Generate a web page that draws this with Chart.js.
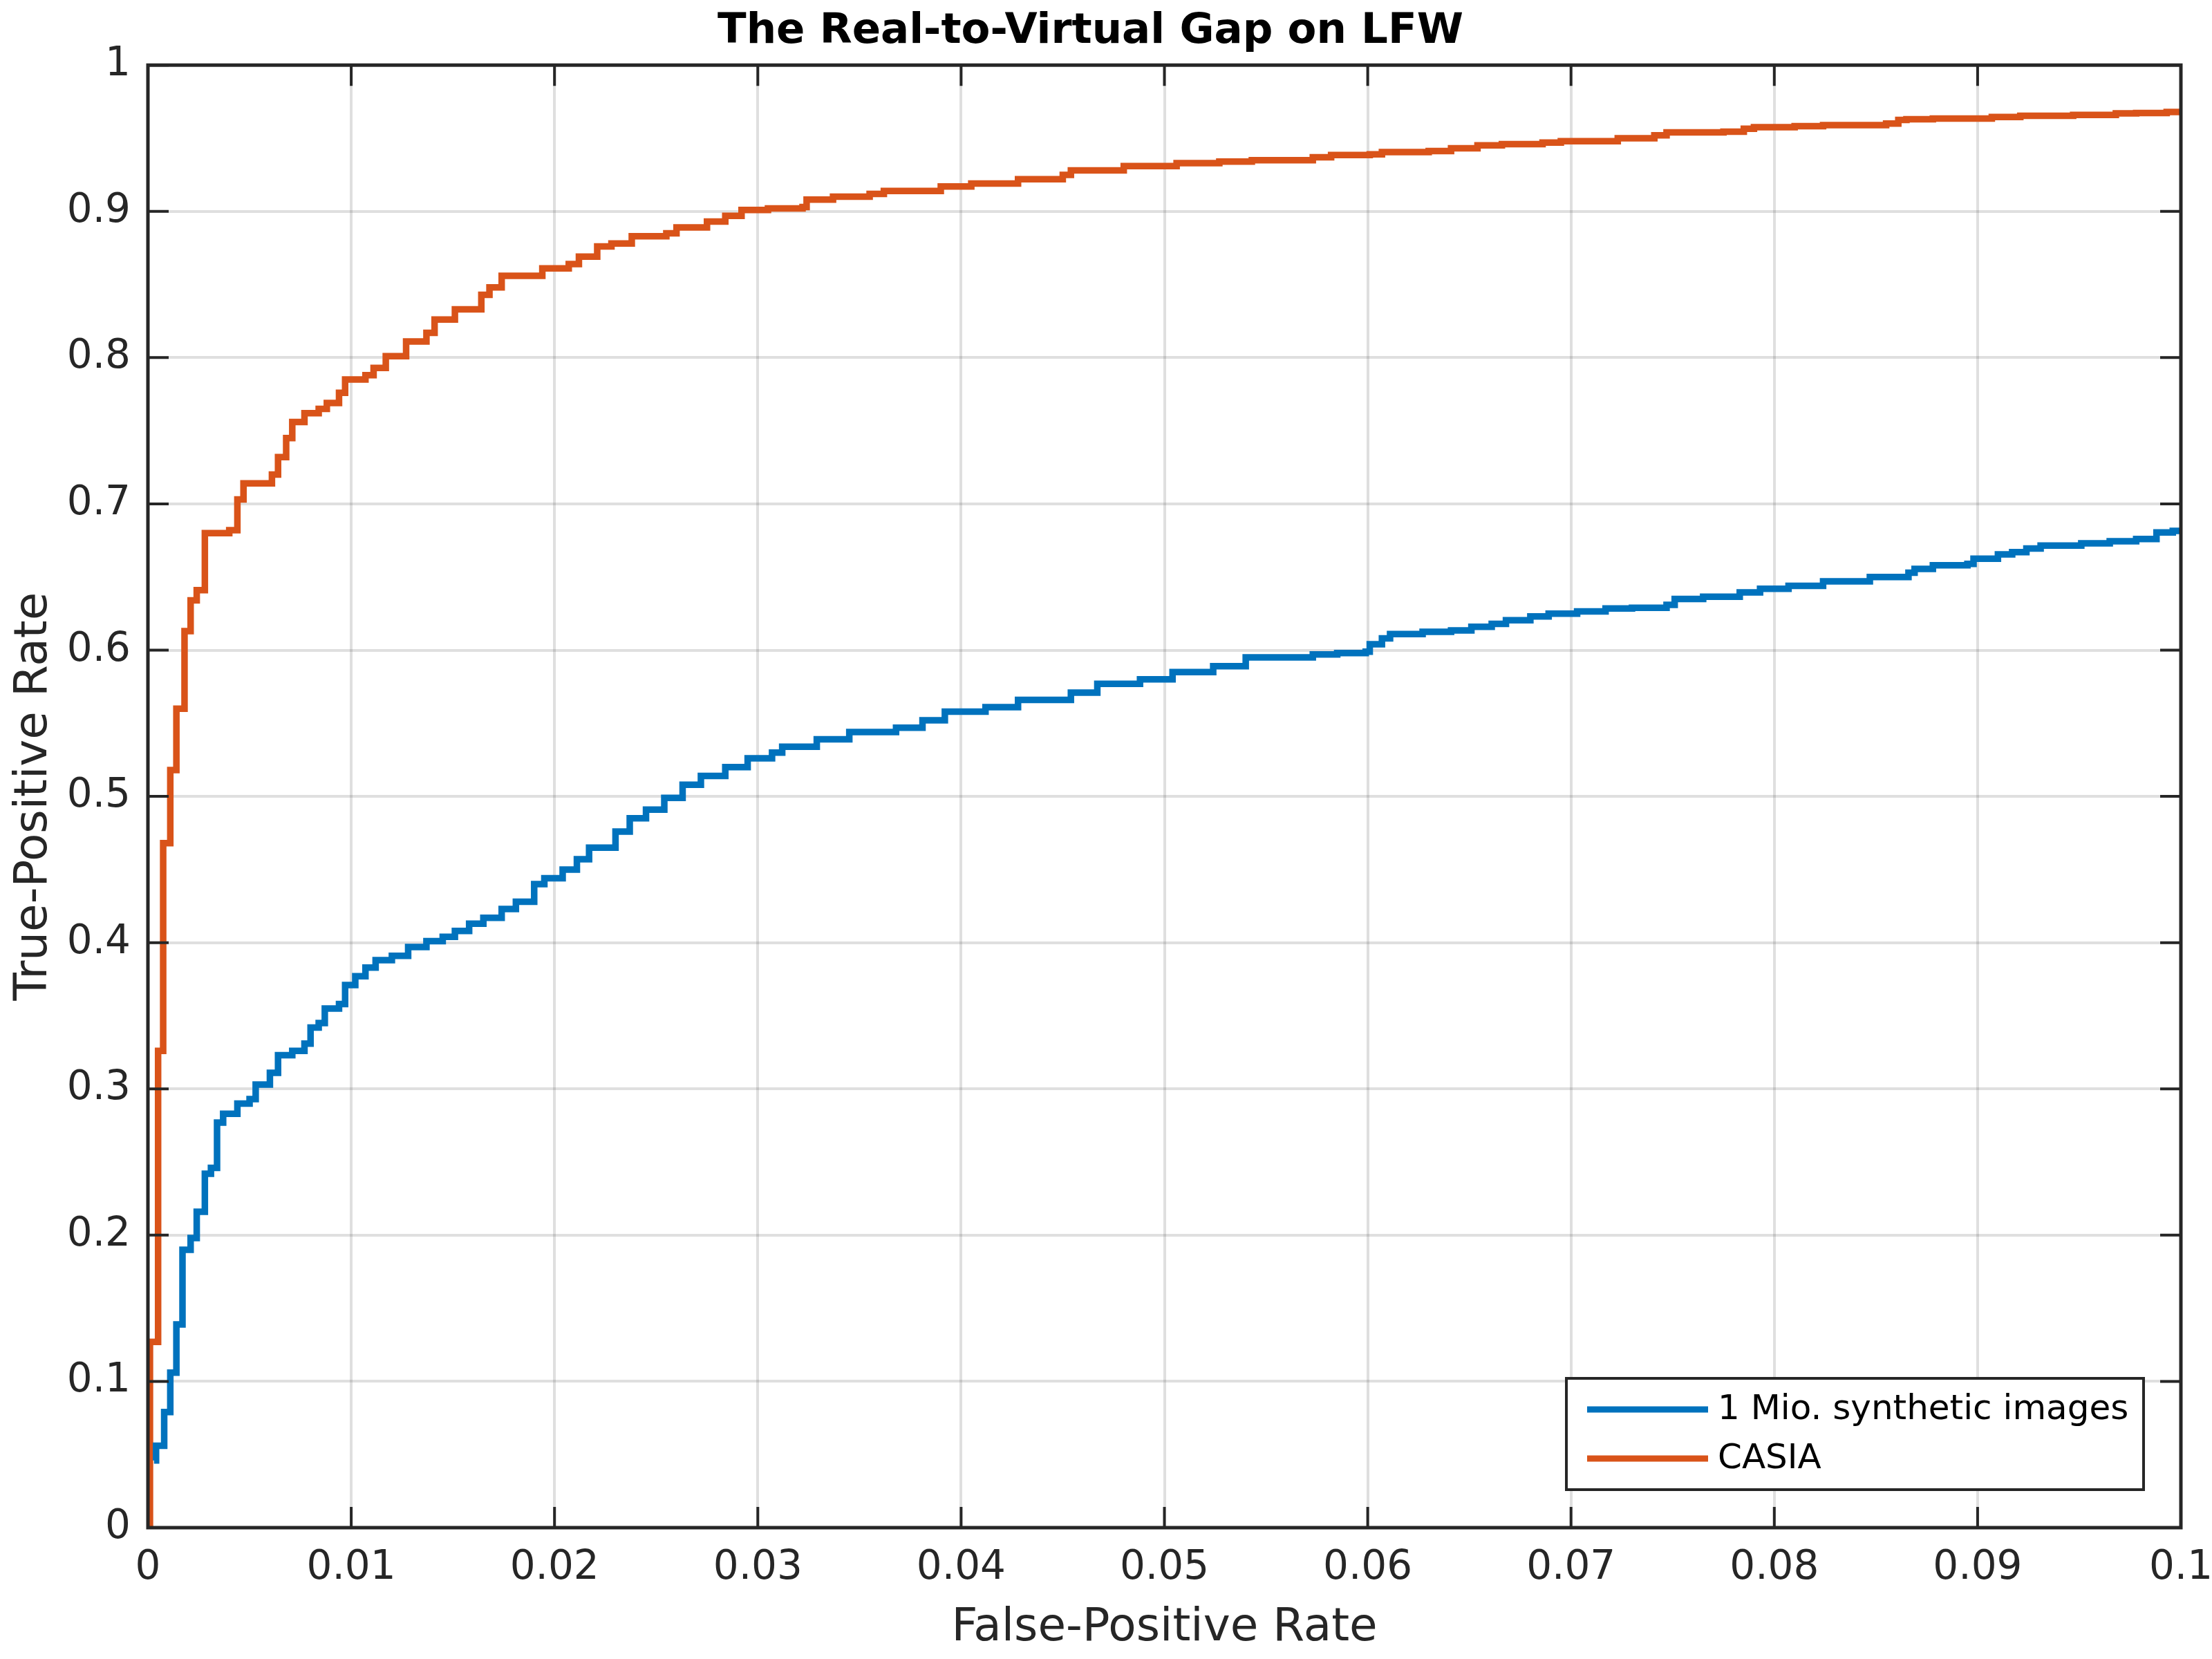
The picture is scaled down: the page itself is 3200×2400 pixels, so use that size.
<!DOCTYPE html>
<html>
<head>
<meta charset="utf-8">
<script src="https://cdn.jsdelivr.net/npm/chart.js@4/dist/chart.umd.min.js"></script>
<style>
  html, body { margin: 0; padding: 0; background: #fff; }
  #wrap { width: 3200px; height: 2400px; }
</style>
</head>
<body>
<div id="wrap"><canvas id="rocChart" width="3200" height="2400"></canvas></div>
<script>
// 1) Data
const seriesNames = ['1 Mio. synthetic images', 'CASIA'];
const seriesColors = ['#0072BD', '#D95319'];

const fprSynthetic = [0.0003, 0.0004, 0.0008, 0.0011, 0.0014, 0.0017, 0.0021, 0.0024, 0.0028, 0.0031,
  0.0034, 0.0037, 0.0044, 0.0050, 0.0053, 0.0060, 0.0064, 0.0071, 0.0077, 0.0080,
  0.0084, 0.0087, 0.0094, 0.0097, 0.0102, 0.0107, 0.0112, 0.0120, 0.0128, 0.0137,
  0.0145, 0.0151, 0.0158, 0.0165, 0.0174, 0.0181, 0.0190, 0.0195, 0.0204, 0.0211,
  0.0217, 0.0230, 0.0237, 0.0245, 0.0254, 0.0263, 0.0272, 0.0284, 0.0295, 0.0307,
  0.0312, 0.0329, 0.0345, 0.0368, 0.0381, 0.0392, 0.0412, 0.0428, 0.0454, 0.0467,
  0.0488, 0.0504, 0.0524, 0.0540, 0.0573, 0.0585, 0.0599, 0.0601, 0.0607, 0.0611,
  0.0627, 0.0641, 0.0651, 0.0661, 0.0668, 0.0680, 0.0689, 0.0703, 0.0717, 0.0730,
  0.0747, 0.0751, 0.0765, 0.0783, 0.0793, 0.0807, 0.0824, 0.0847, 0.0866, 0.0869,
  0.0878, 0.0895, 0.0898, 0.0910, 0.0917, 0.0924, 0.0931, 0.0951, 0.0965, 0.0978,
  0.0988, 0.0996, 0.1000];
const tprSynthetic = [0.046, 0.056, 0.079, 0.106, 0.139, 0.190, 0.198, 0.216, 0.242, 0.246,
  0.277, 0.283, 0.290, 0.293, 0.303, 0.311, 0.323, 0.326, 0.331, 0.342,
  0.345, 0.355, 0.358, 0.371, 0.377, 0.383, 0.388, 0.391, 0.397, 0.401,
  0.404, 0.408, 0.413, 0.417, 0.423, 0.428, 0.440, 0.444, 0.450, 0.457,
  0.465, 0.476, 0.485, 0.491, 0.499, 0.508, 0.514, 0.520, 0.526, 0.530,
  0.534, 0.539, 0.544, 0.547, 0.552, 0.558, 0.561, 0.566, 0.571, 0.577,
  0.580, 0.585, 0.589, 0.595, 0.597, 0.598, 0.599, 0.604, 0.608, 0.611,
  0.6125, 0.6135, 0.616, 0.618, 0.6205, 0.623, 0.625, 0.6265, 0.6285, 0.629,
  0.631, 0.635, 0.6365, 0.6395, 0.642, 0.644, 0.647, 0.650, 0.653, 0.6555,
  0.658, 0.659, 0.6625, 0.6655, 0.667, 0.6695, 0.6715, 0.673, 0.6745, 0.676,
  0.6805, 0.6815, 0.6815];

const fprCasia = [0, 0.0001, 0.0005, 0.00075, 0.0011, 0.0014, 0.0018, 0.0021, 0.0024, 0.0028,
  0.0040, 0.0044, 0.0047, 0.0061, 0.0064, 0.0068, 0.0071, 0.0077, 0.0084, 0.0088,
  0.0094, 0.0097, 0.0107, 0.0111, 0.0117, 0.0127, 0.0137, 0.0141, 0.0151, 0.0164,
  0.0168, 0.0174, 0.0194, 0.0207, 0.0212, 0.0221, 0.0228, 0.0238, 0.0255, 0.0260,
  0.0275, 0.0284, 0.0292, 0.0305, 0.0322, 0.0324, 0.0337, 0.0355, 0.0362, 0.0390,
  0.0405, 0.0428, 0.0450, 0.0454, 0.0480, 0.0506, 0.0527, 0.0543, 0.0573, 0.0582,
  0.0601, 0.0607, 0.0630, 0.0641, 0.0654, 0.0666, 0.0686, 0.0695, 0.0723, 0.0741,
  0.0747, 0.0775, 0.0785, 0.0790, 0.0810, 0.0824, 0.0855, 0.0861, 0.0865, 0.0878,
  0.0907, 0.0921, 0.0947, 0.0968, 0.0978, 0.0993, 0.1000];
const tprCasia = [0, 0.127, 0.326, 0.468, 0.518, 0.560, 0.613, 0.634, 0.641, 0.680,
  0.682, 0.703, 0.714, 0.720, 0.732, 0.745, 0.756, 0.762, 0.765, 0.769,
  0.776, 0.785, 0.788, 0.793, 0.801, 0.811, 0.817, 0.826, 0.833, 0.843,
  0.848, 0.856, 0.861, 0.864, 0.869, 0.876, 0.878, 0.883, 0.885, 0.889,
  0.893, 0.897, 0.901, 0.902, 0.903, 0.908, 0.910, 0.912, 0.914, 0.917,
  0.919, 0.922, 0.925, 0.928, 0.931, 0.933, 0.934, 0.935, 0.937, 0.9385,
  0.939, 0.9405, 0.9413, 0.9432, 0.9452, 0.946, 0.947, 0.948, 0.950, 0.952,
  0.954, 0.9545, 0.9565, 0.9575, 0.9583, 0.959, 0.960, 0.9625, 0.963, 0.9635,
  0.9645, 0.9653, 0.966, 0.967, 0.9673, 0.968, 0.968];

// 2) Axis ticks
const xTicks = [0, 0.01, 0.02, 0.03, 0.04, 0.05, 0.06, 0.07, 0.08, 0.09, 0.1];
const xTickLabels = ['0', '0.01', '0.02', '0.03', '0.04', '0.05', '0.06', '0.07', '0.08', '0.09', '0.1'];
const yTicks = [0, 0.1, 0.2, 0.3, 0.4, 0.5, 0.6, 0.7, 0.8, 0.9, 1];
const yTickLabels = ['0', '0.1', '0.2', '0.3', '0.4', '0.5', '0.6', '0.7', '0.8', '0.9', '1'];

const AXIS_COLOR = '#262626';
const FONT = 'DejaVu Sans';

function toPoints(xs, ys) {
  return xs.map((x, i) => ({ x, y: ys[i] }));
}

// 3) MATLAB-style box, inward ticks on all sides, and legend
const matlabAxes = {
  id: 'matlabAxes',
  afterDraw(chart) {
    const { ctx, chartArea: a, scales } = chart;
    const tickLen = 30;
    ctx.save();
    ctx.strokeStyle = AXIS_COLOR;
    ctx.lineWidth = 4;
    ctx.beginPath();
    xTicks.forEach(v => {
      const px = scales.x.getPixelForValue(v);
      ctx.moveTo(px, a.bottom); ctx.lineTo(px, a.bottom - tickLen);
      ctx.moveTo(px, a.top); ctx.lineTo(px, a.top + tickLen);
    });
    yTicks.forEach(v => {
      const py = scales.y.getPixelForValue(v);
      ctx.moveTo(a.left, py); ctx.lineTo(a.left + tickLen, py);
      ctx.moveTo(a.right, py); ctx.lineTo(a.right - tickLen, py);
    });
    ctx.stroke();
    ctx.lineWidth = 5;
    ctx.strokeRect(a.left, a.top, a.right - a.left, a.bottom - a.top);

    // legend box in the lower right corner
    const boxR = a.right - 54, boxB = a.bottom - 55;
    const boxW = 835, boxH = 161;
    const boxL = boxR - boxW, boxT = boxB - boxH;
    ctx.fillStyle = '#ffffff';
    ctx.fillRect(boxL, boxT, boxW, boxH);
    ctx.lineWidth = 4;
    ctx.strokeRect(boxL, boxT, boxW, boxH);
    ctx.font = '50px "' + FONT + '"';
    ctx.textBaseline = 'middle';
    ctx.textAlign = 'left';
    chart.data.datasets.forEach((ds, i) => {
      const ly = boxT + 45 + i * 71;
      ctx.strokeStyle = ds.borderColor;
      ctx.lineWidth = 9;
      ctx.beginPath();
      ctx.moveTo(boxL + 30, ly);
      ctx.lineTo(boxL + 205, ly);
      ctx.stroke();
      ctx.fillStyle = '#000000';
      ctx.fillText(ds.label, boxL + 219, ly + 1);
    });
    ctx.restore();
  }
};

// 4) Build the chart
const ctx = document.getElementById('rocChart');
new Chart(ctx, {
  type: 'line',
  data: {
    datasets: [
      {
        label: seriesNames[0],
        data: toPoints(fprSynthetic, tprSynthetic),
        borderColor: seriesColors[0],
        borderWidth: 9.5,
        stepped: 'before',
        pointRadius: 0,
        fill: false
      },
      {
        label: seriesNames[1],
        data: toPoints(fprCasia, tprCasia),
        borderColor: seriesColors[1],
        borderWidth: 9.5,
        stepped: 'before',
        pointRadius: 0,
        fill: false
      }
    ]
  },
  options: {
    responsive: false,
    animation: false,
    devicePixelRatio: 1,
    layout: { padding: { left: 0, right: 45, top: 0, bottom: 0 } },
    plugins: {
      legend: { display: false },
      tooltip: { enabled: false },
      title: {
        display: true,
        text: 'The Real-to-Virtual Gap on LFW',
        color: '#000000',
        font: { family: FONT, size: 61, weight: 'bold', lineHeight: 1.2 },
        padding: { top: 10, bottom: 11 }
      }
    },
    scales: {
      x: {
        type: 'linear',
        min: 0,
        max: 0.1,
        afterBuildTicks: s => { s.ticks = xTicks.map(v => ({ value: v })); },
        afterFit: s => { s.height = 190; s.paddingLeft = 0; s.paddingRight = 0; },
        ticks: {
          callback: (v, i) => xTickLabels[i],
          color: AXIS_COLOR,
          font: { family: FONT, size: 58 },
          padding: 24,
          maxRotation: 0,
          autoSkip: false
        },
        grid: { color: 'rgba(38,38,38,0.15)', lineWidth: 4, drawTicks: false },
        border: { display: false },
        title: {
          display: true,
          text: 'False-Positive Rate',
          color: AXIS_COLOR,
          font: { family: FONT, size: 66, lineHeight: 1.2 },
          padding: { top: 0, bottom: 5 }
        }
      },
      y: {
        type: 'linear',
        min: 0,
        max: 1,
        afterBuildTicks: s => { s.ticks = yTicks.map(v => ({ value: v })); },
        afterFit: s => { s.width = 214; s.paddingTop = 0; s.paddingBottom = 0; },
        ticks: {
          callback: (v, i) => yTickLabels[i],
          color: AXIS_COLOR,
          font: { family: FONT, size: 58 },
          padding: 25,
          autoSkip: false
        },
        grid: { color: 'rgba(38,38,38,0.15)', lineWidth: 4, drawTicks: false },
        border: { display: false },
        title: {
          display: true,
          text: 'True-Positive Rate',
          color: AXIS_COLOR,
          font: { family: FONT, size: 66, lineHeight: 1.2 },
          padding: { top: 10, bottom: 0 }
        }
      }
    }
  },
  plugins: [matlabAxes]
});
</script>
</body>
</html>
